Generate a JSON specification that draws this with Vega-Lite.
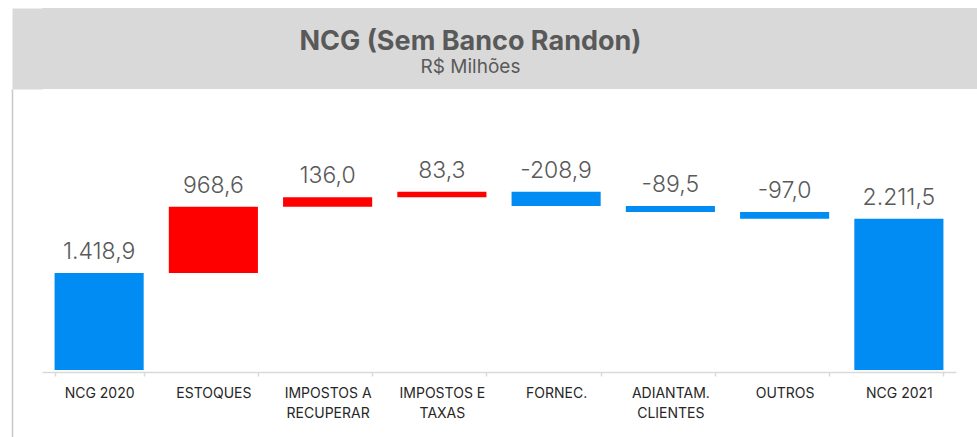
{
  "$schema": "https://vega.github.io/schema/vega-lite/v6.json",
  "padding": {"left": 12, "top": 8, "right": 0, "bottom": 0},
  "background": "#ffffff",
  "spacing": 0,
  "config": {
    "locale": {"number": {"decimal": ",", "thousands": ".", "grouping": [3], "currency": ["R$", ""], "minus": "-"}},
    "view": {"stroke": null},
    "font": "Inter"
  },
  "vconcat": [
    {
      "width": 935,
      "height": 81,
      "view": {"fill": "#d9d9d9", "stroke": null},
      "title": {
        "text": "NCG (Sem Banco Randon)",
        "subtitle": "R$ Milhões",
        "anchor": "middle",
        "orient": "top",
        "offset": -70,
        "dx": -39,
        "font": "Inter",
        "fontSize": 27,
        "fontWeight": "bold",
        "color": "#595959",
        "subtitleFont": "Inter",
        "subtitleFontSize": 19,
        "subtitleColor": "#595959",
        "subtitlePadding": 2
      },
      "data": {"values": [{"t": "", "v": 0}]},
      "mark": {"type": "text"},
      "encoding": {
        "text": {"field": "t"},
        "y": {
          "field": "v",
          "type": "quantitative",
          "axis": {
            "orient": "left",
            "offset": 15,
            "title": null,
            "labels": false,
            "ticks": false,
            "grid": false,
            "domain": true,
            "domainColor": "#d9d9d9",
            "domainWidth": 30
          }
        }
      }
    },
    {
      "width": 914,
      "height": 348,
      "data": {
        "values": [
          {"categoria": "NCG 2020", "valor": 1418.9, "inicio": 0, "fim": 1418.9, "tipo": "total"},
          {"categoria": "ESTOQUES", "valor": 968.6, "inicio": 1418.9, "fim": 2387.5, "tipo": "aumento"},
          {"categoria": "IMPOSTOS A RECUPERAR", "valor": 136.0, "inicio": 2387.5, "fim": 2523.5, "tipo": "aumento"},
          {"categoria": "IMPOSTOS E TAXAS", "valor": 83.3, "inicio": 2523.5, "fim": 2606.8, "tipo": "aumento"},
          {"categoria": "FORNEC.", "valor": -208.9, "inicio": 2606.8, "fim": 2397.9, "tipo": "redução"},
          {"categoria": "ADIANTAM. CLIENTES", "valor": -89.5, "inicio": 2397.9, "fim": 2308.4, "tipo": "redução"},
          {"categoria": "OUTROS", "valor": -97.0, "inicio": 2308.4, "fim": 2211.4, "tipo": "redução"},
          {"categoria": "NCG 2021", "valor": 2211.5, "inicio": 0, "fim": 2211.5, "tipo": "total"}
        ]
      },
      "transform": [{"calculate": "max(datum.inicio, datum.fim)", "as": "topo"}],
      "encoding": {
        "x": {
          "field": "categoria",
          "type": "nominal",
          "sort": null,
          "scale": {"paddingInner": 0.22, "paddingOuter": 0.11},
          "axis": {
            "title": null,
            "orient": "bottom",
            "offset": -65,
            "domainColor": "#d9d9d9",
            "domainWidth": 1.5,
            "tickColor": "#d9d9d9",
            "tickWidth": 1.5,
            "tickSize": 4,
            "tickBand": "extent",
            "labelAngle": 0,
            "labelFontSize": 14,
            "labelColor": "#262626",
            "labelPadding": 10,
            "labelLineHeight": 20,
            "labelOverlap": false,
            "labelBound": false,
            "labelLimit": 200,
            "labelExpr": "datum.value == 'IMPOSTOS A RECUPERAR' ? ['IMPOSTOS A', 'RECUPERAR'] : datum.value == 'IMPOSTOS E TAXAS' ? ['IMPOSTOS E', 'TAXAS'] : datum.value == 'ADIANTAM. CLIENTES' ? ['ADIANTAM.', 'CLIENTES'] : datum.label"
          }
        }
      },
      "layer": [
        {
          "mark": {"type": "bar"},
          "encoding": {
            "y": {
              "field": "inicio",
              "type": "quantitative",
              "scale": {"domain": [-980, 4108], "nice": false, "zero": false},
              "axis": {
                "orient": "left",
                "offset": 30,
                "title": null,
                "labels": false,
                "ticks": false,
                "grid": false,
                "domain": true,
                "domainColor": "#c8c8c8",
                "domainWidth": 1.5
              }
            },
            "y2": {"field": "fim"},
            "color": {
              "field": "tipo",
              "type": "nominal",
              "scale": {"domain": ["total", "aumento", "redução"], "range": ["#008cf2", "#ff0000", "#008cf2"]},
              "legend": null
            }
          }
        },
        {
          "mark": {"type": "text", "baseline": "alphabetic", "dy": -14, "fontSize": 23, "fontWeight": 300, "color": "#595959"},
          "encoding": {
            "y": {"field": "topo", "type": "quantitative"},
            "text": {"field": "valor", "type": "quantitative", "format": ",.1f"}
          }
        }
      ]
    }
  ]
}
